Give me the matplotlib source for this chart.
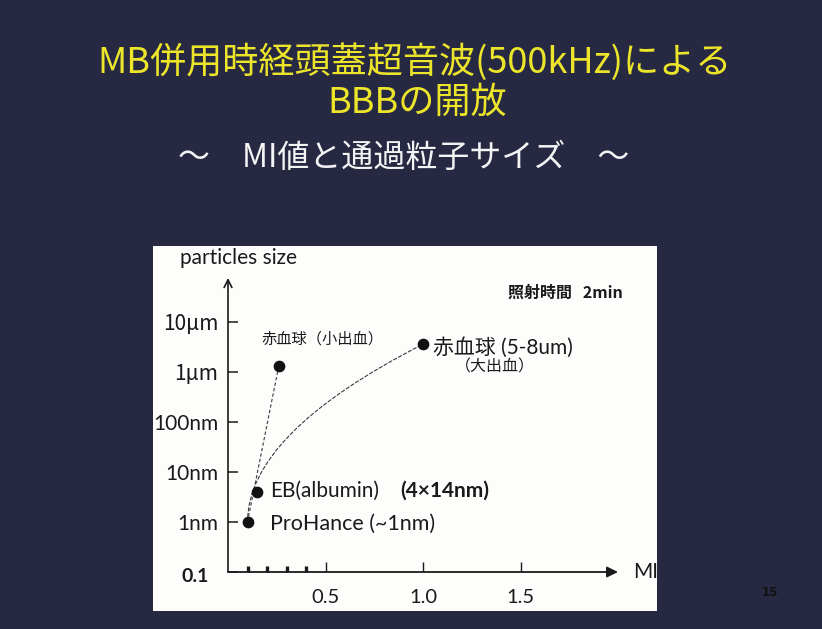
import matplotlib
matplotlib.use("Agg")
import matplotlib.pyplot as plt
from matplotlib.patches import Rectangle
from matplotlib.transforms import ScaledTranslation

# ---- data -------------------------------------------------------------
mi_values = [0.10, 0.15, 0.26, 1.00]          # MI
size_nm = [1.0, 4.0, 1300.0, 3600.0]          # particle size [nm]
size_ticks_nm = [0.1, 1, 10, 100, 1000, 10000]
size_tick_labels = ["0.1", "1nm", "10nm", "100nm", "1μm", "10μm"]
mi_major_ticks = [0.5, 1.0, 1.5]
mi_major_labels = ["0.5", "1.0", "1.5"]
mi_minor_ticks = [0.1, 0.2, 0.3, 0.4]

title_line1 = "MB併用時経頭蓋超音波(500kHz)による"
title_line2 = "BBBの開放"
subtitle = "～　MI値と通過粒子サイズ　～"

# ---- figure -----------------------------------------------------------
W, H, DPI = 822, 629, 100
fig = plt.figure(figsize=(W / DPI, H / DPI), dpi=DPI)
BG = "#272943"
fig.patch.set_facecolor(BG)

LAT = ["Lato", "Noto Sans CJK JP", "DejaVu Sans"]
JP = ["Noto Sans CJK JP", "DejaVu Sans"]
INK = "#1a1a1a"


def fx(px):
    return px / W


def fy(py):
    return 1 - py / H


# white chart panel, kept beneath the axes
panel = Rectangle((fx(153), fy(611)), fx(657) - fx(153), fy(246) - fy(611),
                  transform=fig.transFigure, facecolor="#fdfdfc",
                  edgecolor="none", zorder=-10)
fig.add_artist(panel)

# titles
fig.text(fx(415), fy(62), title_line1, color="#ece52a", fontsize=26,
         family=JP, ha="center", va="center")
fig.text(fx(417), fy(103), title_line2, color="#ece52a", fontsize=26,
         family=JP, ha="center", va="center")
fig.text(fx(404), fy(158), subtitle, color="#f4f4f4", fontsize=23,
         family=JP, ha="center", va="center")
fig.text(fx(770), fy(593), "15", color="#111111", fontsize=8.5,
         fontweight="bold", family=["DejaVu Sans"], ha="center", va="center")

# ---- axes -------------------------------------------------------------
ax = fig.add_axes([fx(228), fy(572), (618 - 228) / W, (572 - 278) / H])
ax.patch.set_alpha(0)
ax.set_yscale("log")
ax.set_xlim(0, 2.0)
ax.set_ylim(0.1, 10 ** 4.88)
for s in ax.spines.values():
    s.set_visible(False)

# axis arrows
ax.annotate("", xy=(1, 0), xytext=(0, 0), xycoords="axes fraction",
            arrowprops=dict(arrowstyle="-|>,head_length=0.65,head_width=0.32",
                            lw=1.3, color=INK, shrinkA=0, shrinkB=0))
ax.annotate("", xy=(0, 1), xytext=(0, 0), xycoords="axes fraction",
            arrowprops=dict(arrowstyle="->,head_length=0.55,head_width=0.28",
                            lw=1.2, color=INK, shrinkA=0, shrinkB=0))

# ticks
ax.set_yticks(size_ticks_nm)
ax.set_yticklabels(size_tick_labels)
ax.yaxis.set_minor_locator(plt.NullLocator())
ax.tick_params(axis="y", which="major", direction="in", length=7.5,
               width=1.1, pad=7, labelsize=15, colors=INK)
ax.set_xticks(mi_major_ticks)
ax.set_xticklabels(mi_major_labels)
ax.set_xticks(mi_minor_ticks, minor=True)
ax.tick_params(axis="x", which="major", direction="in", length=7.5,
               width=1.0, pad=12.5, labelsize=14.5, colors=INK)
ax.tick_params(axis="x", which="minor", direction="in", length=4,
               width=2.4, colors=INK)
for lab in ax.get_xticklabels() + ax.get_yticklabels():
    lab.set_family(LAT)
# micro-metre labels take the wide Japanese mu
for lab in ax.get_yticklabels()[4:]:
    lab.set_family(JP)
    lab.set_fontsize(15)
# bottom size label sits a bit lower and left, in bold
lab01 = ax.get_yticklabels()[0]
lab01.set_fontweight("bold")
lab01.set_fontsize(14)
lab01.set_transform(lab01.get_transform() +
                    ScaledTranslation(-9 / DPI, -3 / DPI, fig.dpi_scale_trans))

ax.text(-0.123, 1.068, "particles size", transform=ax.transAxes,
        fontsize=15, family=LAT, color=INK, ha="left", va="center")
ax.text(1.038, 0.0, "MI", transform=ax.transAxes, fontsize=15,
        family=LAT, color=INK, ha="left", va="center")
ax.text(0.718, 0.949, "照射時間   2min", transform=ax.transAxes,
        fontsize=11.5, family=JP, fontweight="bold", color=INK,
        ha="left", va="center")

# connectors
dash = (0, (3, 2))
ax.plot([mi_values[0], mi_values[2]], [size_nm[0], size_nm[2]],
        ls=dash, lw=0.8, color="#3a3a3a", zorder=3)
ax.annotate("", xy=(mi_values[3], size_nm[3]),
            xytext=(mi_values[0], size_nm[0]),
            arrowprops=dict(arrowstyle="-", lw=0.8, color="#3a3a3a",
                            linestyle=dash, shrinkA=0, shrinkB=0,
                            connectionstyle="angle3,angleA=90,angleB=27"),
            zorder=3)

# points
ax.scatter(mi_values, size_nm, s=55, color="#111111", zorder=5,
           clip_on=False)


def px_pt(v):
    return v * 72 / DPI


def label(i, text, dx, dy, **kw):
    ax.annotate(text, xy=(mi_values[i], size_nm[i]),
                xytext=(px_pt(dx), px_pt(dy)), textcoords="offset points",
                ha="left", va="center", color=INK, **kw)


label(0, "ProHance (~1nm)", 23, -2, fontsize=15.5, family=LAT)
label(1, "EB(albumin)", 13, 1, fontsize=15, family=LAT)
label(1, "(4×14nm)", 143, 1, fontsize=15, family=LAT, fontweight="bold")
label(3, "赤血球 (5-8um)", 10, -3, fontsize=15, family=LAT)
label(3, "（大出血）", 32, -23, fontsize=11.5, family=JP)
label(2, "赤血球（小出血）", -17, 27, fontsize=11, family=JP)

fig.savefig("out.png", dpi=DPI, facecolor=BG)
